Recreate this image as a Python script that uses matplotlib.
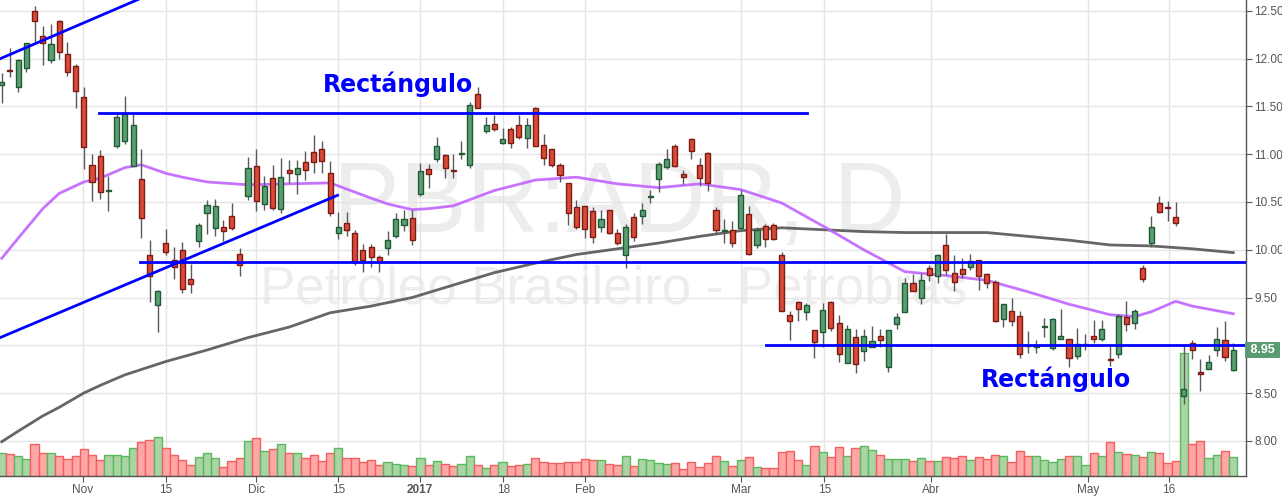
import numpy as np
import matplotlib.pyplot as plt

# PBR diario, una vela por sesion (indice 0 = 18 oct 2016)
opens = [11.72, 11.88, 11.70, 11.90, 12.50, 12.24, 11.99, 12.39, 12.05, 11.92,
         11.60, 10.89, 10.98, 10.62, 11.09, 11.14, 10.88, 10.74, 9.95, 9.42,
         10.07, 9.89, 10.00, 9.69, 10.09, 10.39, 10.23, 10.24, 10.35, 9.96,
         10.56, 10.88, 10.48, 10.75, 10.43, 10.84, 10.79, 10.92, 11.02, 11.05,
         10.80, 10.18, 10.28, 10.18, 10.00, 10.03, 9.92, 10.02, 10.14, 10.26,
         10.33, 10.58, 10.85, 10.95, 10.99, 10.84, 11.00, 10.89, 11.63, 11.24,
         11.32, 11.12, 11.26, 11.31, 11.17, 11.48, 11.10, 11.05, 10.89, 10.70,
         10.45, 10.46, 10.41, 10.24, 10.42, 10.18, 9.94, 10.34, 10.35, 10.55,
         10.74, 10.87, 11.09, 10.79, 11.16, 10.89, 11.01, 10.42, 10.20, 10.21,
         10.23, 10.37, 10.05, 10.25, 10.26, 9.95, 9.32, 9.45, 9.35, 9.16,
         9.14, 9.45, 9.23, 8.81, 9.09, 8.94, 8.98, 9.10, 8.77, 9.22,
         9.35, 9.65, 9.49, 9.81, 9.72, 10.05, 9.76, 9.80, 9.82, 9.89,
         9.75, 9.66, 9.28, 9.36, 9.31, 9.00, 8.98, 9.19, 8.97, 9.07,
         9.07, 8.89, 9.00, 9.10, 9.07, 8.86, 8.91, 9.30, 9.23, 9.81,
         10.07, 10.49, 10.45, 10.34, 8.47, 9.02, 8.72, 8.75, 8.95, 9.06,
         8.74]
highs = [11.85, 12.11, 12.00, 12.17, 12.55, 12.34, 12.36, 12.41, 12.18, 11.95,
         11.70, 11.00, 11.04, 10.77, 11.43, 11.61, 11.42, 11.06, 10.10, 9.58,
         10.22, 10.03, 10.08, 9.85, 10.28, 10.52, 10.53, 10.31, 10.49, 10.02,
         10.97, 11.05, 10.77, 10.89, 10.96, 10.94, 10.94, 11.03, 11.20, 11.14,
         10.93, 10.40, 10.40, 10.21, 10.06, 10.06, 9.95, 10.20, 10.38, 10.42,
         10.42, 10.91, 10.90, 11.18, 11.00, 11.00, 11.14, 11.55, 11.70, 11.39,
         11.41, 11.27, 11.29, 11.41, 11.38, 11.49, 11.21, 11.06, 10.91, 10.70,
         10.52, 10.46, 10.45, 10.42, 10.42, 10.22, 10.27, 10.38, 10.49, 10.63,
         10.92, 11.05, 11.11, 10.83, 11.17, 10.96, 11.02, 10.45, 10.32, 10.30,
         10.63, 10.46, 10.24, 10.27, 10.28, 9.98, 9.36, 9.46, 9.44, 9.16,
         9.44, 9.46, 9.32, 9.21, 9.17, 9.17, 9.20, 9.17, 9.16, 9.34,
         9.70, 9.75, 9.76, 9.84, 9.96, 10.17, 9.95, 9.91, 9.96, 9.89,
         9.76, 9.68, 9.43, 9.49, 9.36, 9.15, 9.05, 9.29, 9.29, 9.38,
         9.07, 9.18, 9.12, 9.26, 9.26, 9.00, 9.33, 9.46, 9.38, 9.84,
         10.35, 10.56, 10.51, 10.50, 9.00, 9.05, 8.86, 8.90, 9.19, 9.25,
         9.02]
lows = [11.54, 11.81, 11.65, 11.86, 12.16, 11.93, 11.96, 12.00, 11.82, 11.48,
        10.85, 10.51, 10.53, 10.41, 11.07, 11.11, 10.88, 10.12, 9.45, 9.14,
        9.94, 9.69, 9.55, 9.55, 10.03, 10.17, 10.14, 10.09, 10.21, 9.72,
        10.52, 10.41, 10.42, 10.42, 10.38, 10.70, 10.58, 10.73, 10.80, 10.80,
        10.35, 10.11, 10.14, 9.84, 9.77, 9.82, 9.77, 9.94, 10.12, 10.20,
        10.05, 10.56, 10.65, 10.92, 10.75, 10.75, 10.95, 10.86, 11.48, 11.22,
        11.24, 11.11, 11.07, 11.16, 11.07, 11.09, 10.89, 10.87, 10.71, 10.26,
        10.22, 10.12, 10.07, 10.19, 10.16, 10.05, 9.81, 10.09, 10.27, 10.49,
        10.60, 10.85, 10.87, 10.69, 10.95, 10.67, 10.61, 10.17, 10.07, 10.03,
        10.23, 9.94, 10.02, 10.03, 10.10, 9.36, 9.06, 9.25, 9.26, 8.87,
        8.98, 9.15, 8.82, 8.81, 8.71, 8.84, 8.98, 8.98, 8.72, 9.17,
        9.35, 9.57, 9.43, 9.67, 9.65, 9.74, 9.57, 9.70, 9.79, 9.58,
        9.60, 9.24, 9.19, 9.20, 8.87, 8.92, 8.92, 9.09, 8.95, 9.07,
        8.77, 8.86, 8.95, 9.02, 9.04, 8.78, 8.87, 9.15, 9.17, 9.66,
        10.03, 10.39, 10.30, 10.25, 8.39, 8.86, 8.52, 8.75, 8.89, 8.84,
        8.73]
closes = [11.76, 11.87, 11.99, 12.16, 12.39, 12.16, 12.15, 12.07, 11.86, 11.66,
          11.08, 10.71, 10.60, 10.63, 11.39, 11.42, 11.31, 10.33, 9.73, 9.57,
          9.98, 9.82, 9.59, 9.64, 10.26, 10.47, 10.46, 10.20, 10.23, 9.84,
          10.86, 10.51, 10.67, 10.44, 10.76, 10.80, 10.86, 10.83, 10.92, 10.93,
          10.39, 10.24, 10.21, 9.87, 9.89, 9.92, 9.87, 10.10, 10.32, 10.32,
          10.10, 10.82, 10.79, 11.09, 10.86, 10.82, 11.01, 11.52, 11.48, 11.31,
          11.26, 11.16, 11.12, 11.18, 11.31, 11.09, 10.96, 10.89, 10.78, 10.38,
          10.24, 10.22, 10.13, 10.32, 10.18, 10.07, 10.24, 10.13, 10.42, 10.56,
          10.90, 10.95, 10.88, 10.76, 11.03, 10.75, 10.70, 10.21, 10.21, 10.07,
          10.57, 9.96, 10.21, 10.11, 10.11, 9.36, 9.25, 9.38, 9.42, 9.03,
          9.37, 9.18, 8.91, 9.17, 8.80, 9.10, 9.04, 9.05, 9.16, 9.30,
          9.65, 9.57, 9.68, 9.74, 9.95, 9.79, 9.66, 9.75, 9.88, 9.72,
          9.65, 9.25, 9.43, 9.25, 8.91, 8.99, 9.00, 9.20, 9.27, 9.10,
          8.87, 9.01, 9.01, 9.07, 9.17, 8.85, 9.31, 9.22, 9.36, 9.69,
          10.24, 10.40, 10.44, 10.28, 8.54, 8.95, 8.70, 8.82, 9.07, 8.88,
          8.95]
volumes = [22.7, 21.7, 19.7, 16.7, 31.7, 22.7, 22.7, 19.7, 16.7, 19.7,
           26.7, 20.7, 15.7, 20.7, 20.7, 19.7, 27.7, 33.7, 35.7, 38.7,
           27.7, 20.7, 15.7, 10.7, 18.7, 22.7, 17.7, 8.7, 14.7, 17.7,
           34.7, 37.7, 24.7, 26.7, 31.7, 22.7, 22.7, 17.7, 20.7, 14.7,
           22.7, 27.7, 17.7, 17.7, 13.7, 15.7, 10.7, 13.7, 11.7, 10.7,
           9.7, 17.7, 10.7, 14.7, 11.7, 9.7, 11.7, 19.7, 10.7, 7.7,
           10.7, 13.7, 9.7, 10.7, 11.7, 17.7, 13.7, 12.7, 12.7, 13.7,
           13.7, 16.7, 15.7, 15.7, 11.7, 10.7, 19.7, 9.7, 16.7, 15.7,
           12.7, 11.7, 12.7, 6.7, 13.7, 8.7, 12.7, 19.7, 14.7, 9.7,
           15.7, 18.7, 8.7, 7.7, 7.7, 23.7, 24.7, 15.7, 10.7, 29.7,
           23.7, 18.7, 28.7, 19.7, 27.7, 29.7, 25.7, 20.7, 16.7, 16.7,
           16.7, 14.7, 17.7, 14.7, 14.7, 18.7, 17.7, 19.7, 15.7, 18.7,
           16.7, 20.7, 19.7, 13.7, 24.7, 19.7, 19.7, 15.7, 13.7, 16.7,
           19.7, 19.7, 10.7, 22.7, 19.7, 33.7, 23.7, 21.7, 20.7, 18.7,
           23.7, 22.7, 12.7, 14.7, 122.7, 31.7, 34.7, 17.7, 20.7, 24.7,
           18.7]

# medias moviles
ma_fast_idx = [0, 2, 5, 7, 10, 12, 15, 17, 20, 22, 25, 30, 35, 40, 45, 47, 50, 52,
               55, 60, 65, 70, 75, 80, 85, 90, 95, 100, 105, 110, 115, 120, 125,
               130, 135, 138, 140, 143, 145, 150]
ma_fast = [9.91, 10.12, 10.43, 10.59, 10.71, 10.75, 10.86, 10.89, 10.80, 10.76,
           10.71, 10.68, 10.69, 10.70, 10.54, 10.48, 10.42, 10.43, 10.46, 10.62,
           10.73, 10.76, 10.69, 10.65, 10.69, 10.63, 10.49, 10.25, 10.00, 9.77,
           9.73, 9.68, 9.56, 9.43, 9.32, 9.30, 9.35, 9.46, 9.41, 9.33]
ma_slow_idx = [0, 2, 5, 7, 10, 12, 15, 20, 25, 30, 35, 40, 45, 50, 55, 60, 65, 70,
               75, 80, 85, 90, 95, 100, 105, 110, 115, 120, 125, 130, 135, 140,
               145, 150]
ma_slow = [7.99, 8.10, 8.26, 8.35, 8.50, 8.58, 8.69, 8.83, 8.95, 9.08,
           9.19, 9.34, 9.41, 9.50, 9.63, 9.76, 9.86, 9.95, 10.01, 10.07,
           10.14, 10.20, 10.23, 10.21, 10.19, 10.18, 10.18, 10.18, 10.14, 10.10,
           10.05, 10.04, 10.01, 9.97]

tick_pos = [9.9, 20.0, 31.0, 41.0, 50.95, 61.1, 71.1, 90.1, 100.2, 113.2, 132.3, 142.2]
tick_labels = ['Nov', '15', 'Dic', '15', '2017', '18', 'Feb', 'Mar', '15', 'Abr', 'May', '16']

# lineas de analisis dibujadas sobre el grafico
trend_x = [[-0.2, 16.6], [-0.2, 40.9]]
trend_y = [[12.00, 12.62], [9.08, 10.57]]
hline_y = [11.43, 9.875, 9.005]
hline_x0 = [11.85, 16.85, 93.05]
hline_x1 = [98.05, 151.6, 151.6]

o = np.array(opens)
h = np.array(highs)
l = np.array(lows)
c = np.array(closes)
v = np.array(volumes)
x = np.arange(len(c))
up = c >= o

fig = plt.figure(figsize=(12.82, 4.96), dpi=100)
ax = fig.add_axes([0, 20 / 496, 1246 / 1282, 476 / 496])

# marca de agua
ax.text(75.25, 10.186, 'PBR:ADR, D', fontsize=72, color='#ededed',
        family='Liberation Sans', ha='center', va='baseline', zorder=0.2)
ax.text(74.5, 9.442, 'Petroleo Brasileiro - Petrobras', fontsize=38, color='#ededed',
        family='Liberation Sans', ha='center', va='baseline', zorder=0.2)

# volumen (escala propia, parte baja del panel)
vol_top = 476.0
ax.bar(x, v / vol_top, width=1.0, bottom=0,
       color=np.where(up, '#a9d5a4', '#ffa6a6'),
       edgecolor=np.where(up, '#5cb85c', '#f35f5f'), linewidth=1,
       transform=ax.get_xaxis_transform(), zorder=1)

ax.plot(ma_slow_idx, ma_slow, color='#555555', lw=2, alpha=0.9, zorder=2)
ax.plot(ma_fast_idx, ma_fast, color='#c065ff', lw=2, alpha=0.9, zorder=2)

# velas
ax.vlines(x, l, h, color='#5a5a5a', lw=1, zorder=3)
ax.bar(x, np.abs(c - o), bottom=np.minimum(o, c), width=0.62,
       color=np.where(up, '#5b9e74', '#d94a3a'),
       edgecolor=np.where(up, '#1f5a33', '#7a1c14'), linewidth=1, zorder=4)

for xs, ys in zip(trend_x, trend_y):
    ax.plot(xs, ys, color='#0000ff', lw=2, zorder=5)
for yy, a, b in zip(hline_y, hline_x0, hline_x1):
    ax.plot([a, b], [yy, yy], color='#0000ff', lw=2, zorder=5)

ax.text(48.3, 11.652, 'Rectángulo', fontsize=17, fontweight='bold', color='#0000ff',
        ha='center', va='baseline', zorder=6)
ax.text(128.4, 8.566, 'Rectángulo', fontsize=17, fontweight='bold', color='#0000ff',
        ha='center', va='baseline', zorder=6)

ax.set_xlim(-0.21, 151.56)
ax.set_ylim(7.631, 12.615)

ax.yaxis.tick_right()
ax.set_yticks(np.arange(8.0, 12.51, 0.5))
ax.yaxis.set_major_formatter('{x:.2f}')
ax.set_xticks(tick_pos)
ax.set_xticklabels(tick_labels)
ax.tick_params(axis='both', direction='out', length=4, color='#555555',
               labelcolor='#555555', labelsize=8.5, pad=2)
for lab in ax.get_xticklabels() + ax.get_yticklabels():
    lab.set_family('Liberation Sans')
for lab in ax.get_xticklabels():
    if lab.get_text() == '2017':
        lab.set_fontweight('bold')
# la etiqueta del ultimo precio tapa la de 9.00
ax.get_yticklabels()[2].set_visible(False)

ax.grid(True, color='#e5e5e5', lw=1)
ax.set_axisbelow(True)
for s in ['top', 'left']:
    ax.spines[s].set_visible(False)
for s in ['right', 'bottom']:
    ax.spines[s].set_color('#555555')
    ax.spines[s].set_linewidth(1)

ax.text(1.0008, c[-1], f' {c[-1]:.2f} ', transform=ax.get_yaxis_transform(),
        ha='left', va='center', fontsize=9, fontweight='bold', color='white',
        family='Liberation Sans',
        bbox=dict(boxstyle='square,pad=0.15', fc='#5b9b73', ec='none'),
        clip_on=False, zorder=7)

fig.savefig('out.png', dpi=100)
